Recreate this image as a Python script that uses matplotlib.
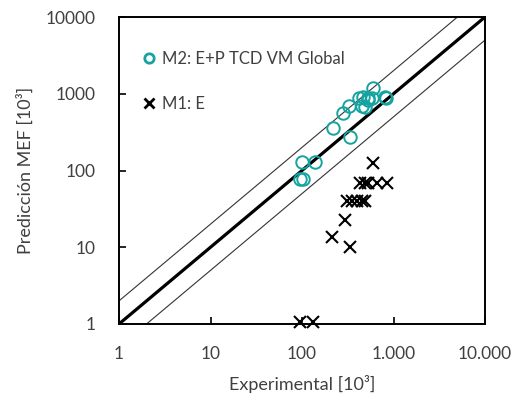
import matplotlib
matplotlib.use("Agg")
import matplotlib.pyplot as plt
from matplotlib.ticker import FixedLocator, FixedFormatter
import numpy as np

plt.rcParams['font.family'] = ['Lato', 'DejaVu Sans']

# M2: E+P TCD VM Global (open teal circles)
m2_exp = [99, 139, 94, 103, 216, 335, 283, 329, 591, 828, 423, 468, 531, 578, 449, 489, 526, 800]
m2_mef = [130, 130, 77, 77, 355, 276, 556, 700, 1178, 872, 872, 916, 890, 890, 700, 679, 830, 900]

# M1: E (black crosses)
m1_exp = [591, 431, 489, 526, 655, 843, 308, 349, 396, 449, 489, 295, 211, 335, 95, 133]
m1_mef = [124, 68, 68, 68, 68, 68, 40.4, 40.4, 40.4, 40.4, 40.4, 22.7, 13.5, 10.2, 1.07, 1.07]

ref_line = [1, 10000]
tick_vals = [1, 10, 100, 1000, 10000]
x_tick_labels = ['1', '10', '100', '1.000', '10.000']
y_tick_labels = ['1', '10', '100', '1000', '10000']

fig = plt.figure(figsize=(5.25, 4.0), dpi=100)
ax = fig.add_axes([119/525, 1-324/400, (485-119)/525, (324-17)/400])

ax.set_xscale('log')
ax.set_yscale('log')
ax.set_xlim(1, 10000)
ax.set_ylim(1, 10000)

r = np.array(ref_line, dtype=float)
ax.plot(r, r, color='black', lw=2.3, zorder=2)
ax.plot(r, 2*r, color='#333333', lw=0.8, zorder=2)
ax.plot(r, r/2, color='#333333', lw=0.8, zorder=2)

ax.plot(m2_exp, m2_mef, linestyle='none', marker='o', markersize=9,
        markerfacecolor='none', markeredgecolor='#14A3A0', markeredgewidth=1.4,
        label='M2: E+P TCD VM Global', zorder=3, clip_on=False)
ax.plot(m1_exp, m1_mef, linestyle='none', marker='x', markersize=9,
        color='black', markeredgewidth=1.5, label='M1: E', zorder=3, clip_on=False)

ax.xaxis.set_major_locator(FixedLocator(tick_vals))
ax.xaxis.set_major_formatter(FixedFormatter(x_tick_labels))
ax.yaxis.set_major_locator(FixedLocator(tick_vals))
ax.yaxis.set_major_formatter(FixedFormatter(y_tick_labels))
ax.xaxis.set_minor_locator(FixedLocator([]))
ax.yaxis.set_minor_locator(FixedLocator([]))
ax.tick_params(axis='both', which='major', direction='in', length=5, width=1.2,
               labelsize=12.5, colors='black', labelcolor='#404040')
ax.tick_params(axis='y', pad=17)
ax.tick_params(axis='x', pad=16)

for s in ax.spines.values():
    s.set_linewidth(1.4)
    s.set_color('black')

ax.set_xlabel('Experimental [10³]', fontsize=13, color='#404040', labelpad=9)
ax.set_ylabel('Predicción MEF [10³]', fontsize=13, color='#404040', labelpad=8)

leg = ax.legend(loc='upper left', bbox_to_anchor=(0.037, 0.927), frameon=False,
                fontsize=12, labelspacing=1.75, handlelength=0.6, handletextpad=0.45,
                markerscale=0.75, borderaxespad=0.3, labelcolor='#404040')
for h in leg.legend_handles:
    h.set_markeredgewidth(2.0)

fig.savefig('out.png', dpi=100)
